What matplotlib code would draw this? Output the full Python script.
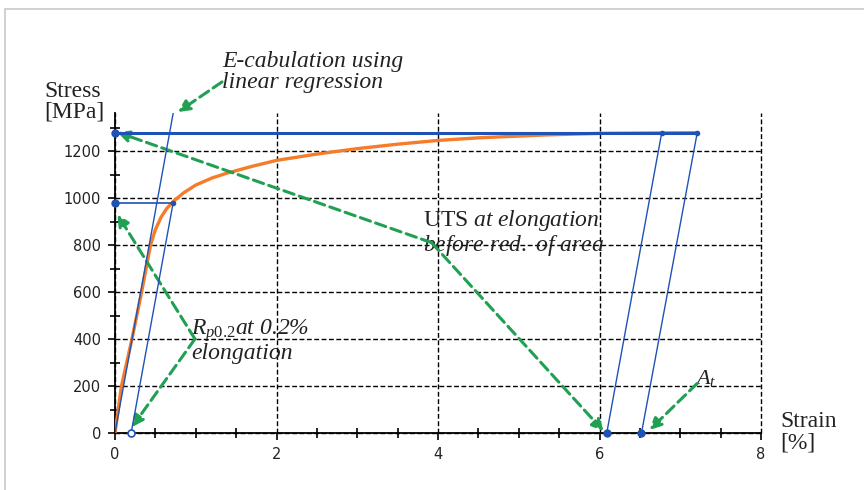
import numpy as np
import matplotlib
matplotlib.use("Agg")
import matplotlib.pyplot as plt
from matplotlib.patches import Rectangle
from matplotlib.ticker import MultipleLocator

plt.rcParams["mathtext.fontset"] = "custom"
plt.rcParams["mathtext.rm"] = "Liberation Serif"
plt.rcParams["mathtext.it"] = "Liberation Serif:italic"

# measured stress-strain curve (strain in %, stress in MPa)
strain = [0, 0.08, 0.21, 0.33, 0.44, 0.5, 0.57, 0.64, 0.72, 0.85, 1.0, 1.2, 1.38, 1.7, 2.0,
          2.5, 3.0, 3.5, 4.0, 4.5, 5.3, 6.0, 7.2]
stress = [0, 200, 400, 600, 800, 865, 918, 955, 985, 1022, 1055, 1085, 1105, 1135, 1160,
          1187, 1210, 1229, 1245, 1256, 1268, 1275, 1278]

# E-line (linear regression) and 0.2% offset line
e_line_x = [0, 0.72]
e_line_y = [0, 1360]
offset_x = [0.2, 0.72]
offset_y = [0, 980]
rp_x = [0, 0.72]
rp_y = [980, 980]

# UTS level and unloading lines
uts_x = [0, 7.21]
uts_y = [1277, 1277]
unload1_x = [6.09, 6.77]
unload1_y = [0, 1277]
unload2_x = [6.52, 7.21]
unload2_y = [0, 1277]

blue = "#1f52b5"
orange = "#f47c2a"
green = "#1fa052"
tcol = "#222222"

fig = plt.figure(figsize=(8.64, 4.90), dpi=100)
ax = fig.add_axes([115/864, 1-433/490, (761-115)/864, (433-113.4)/490])

fig.patches.append(Rectangle((5/864, -0.1), 2, 1-9/490+0.1, transform=fig.transFigure,
                             fill=False, edgecolor="#c8c8c8", lw=1.2))

ax.plot(strain, stress, color=orange, lw=2.4, zorder=3)
ax.plot(uts_x, uts_y, color=blue, lw=2.2, zorder=4)
ax.plot(e_line_x, e_line_y, color=blue, lw=1.0, zorder=4)
ax.plot(offset_x, offset_y, color=blue, lw=1.0, zorder=4)
ax.plot(rp_x, rp_y, color=blue, lw=1.2, zorder=4)
ax.plot(unload1_x, unload1_y, color=blue, lw=1.0, zorder=4)
ax.plot(unload2_x, unload2_y, color=blue, lw=1.0, zorder=4)

# markers
ax.plot([uts_x[0], rp_x[0], unload1_x[0], unload2_x[0]],
        [uts_y[0], rp_y[0], 0, 0], "o", color=blue, ms=5, zorder=6, clip_on=False)
ax.plot([rp_x[1], unload1_x[1], unload2_x[1]], [rp_y[1], unload1_y[1], unload2_y[1]],
        "o", color=blue, ms=3, zorder=6)
ax.plot([offset_x[0]], [0], "o", mfc="white", mec=blue, ms=5, mew=1.2, zorder=6, clip_on=False)

ax.set_xlim(0, 8)
ax.set_ylim(0, 1360)
ax.xaxis.set_major_locator(MultipleLocator(2))
ax.xaxis.set_minor_locator(MultipleLocator(0.5))
ax.yaxis.set_major_locator(MultipleLocator(200))
ax.yaxis.set_minor_locator(MultipleLocator(100))
ax.set_yticks([0, 200, 400, 600, 800, 1000, 1200])
ax.grid(True, which="major", color="black", ls=(0, (3.5, 1.8)), lw=1.0)
for gl in ax.get_xgridlines() + ax.get_ygridlines():
    gl.set_clip_on(False)
for s in ["top", "right"]:
    ax.spines[s].set_visible(False)
for s in ["left", "bottom"]:
    ax.spines[s].set_linewidth(1.3)
ax.tick_params(which="major", direction="out", length=5, width=1.2, labelsize=10.5,
               labelcolor=tcol, pad=5)
ax.tick_params(which="minor", direction="inout", length=7, width=1.2)

ffam = "Liberation Serif"
ax.text(-0.87, 1409, "Stress\n[MPa]", family=ffam, fontsize=17, color=tcol,
        ha="left", va="center", linespacing=1.0)
ax.text(8.235, 4, "Strain\n[%]", family=ffam, fontsize=17, color=tcol,
        ha="left", va="center", linespacing=1.0)
ax.text(1.325, 1536, "E-cabulation using\nlinear regression", family=ffam, style="italic",
        fontsize=17, color=tcol, ha="left", va="center", linespacing=0.95)
ax.text(0.94, 392, "$R_{p0.2}$at 0.2%\nelongation", family=ffam, style="italic",
        fontsize=17, color=tcol, ha="left", va="center", linespacing=0.95)
ax.text(3.81, 851, "UTS$\\mathit{\\ at\\ elongation}$\n$\\mathit{before\\ red.\\ of\\ area}$",
        family=ffam, fontsize=17, color=tcol, ha="left", va="center", linespacing=0.95)
ax.text(7.18, 234, "$A_t$", family=ffam, fontsize=16, color=tcol, ha="left", va="center")

arrow = dict(arrowstyle="-|>", color=green, lw=2.2, ls=(0, (3.5, 1.8)), mutation_scale=17,
             shrinkA=0, shrinkB=0)
ax.annotate("", xy=(0.78, 1366), xytext=(1.325, 1494), arrowprops=arrow, annotation_clip=False)
ax.annotate("", xy=(0.03, 1280), xytext=(3.92, 810), arrowprops=arrow, annotation_clip=False)
ax.annotate("", xy=(6.05, 8), xytext=(3.92, 810), arrowprops=arrow, annotation_clip=False)
ax.annotate("", xy=(0.03, 930), xytext=(0.99, 400), arrowprops=arrow, annotation_clip=False)
ax.annotate("", xy=(0.21, 25), xytext=(0.99, 400), arrowprops=arrow, annotation_clip=False)
ax.annotate("", xy=(6.62, 13), xytext=(7.21, 211), arrowprops=arrow, annotation_clip=False)

fig.savefig("out.png", dpi=100)
